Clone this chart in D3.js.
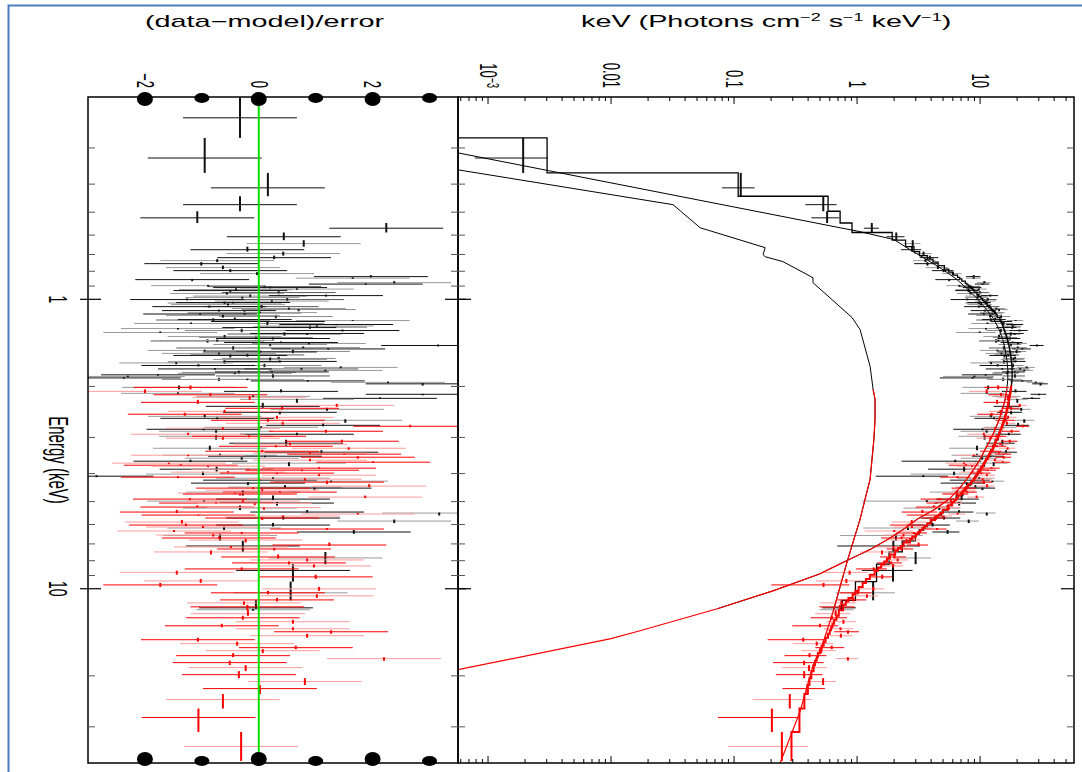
<!DOCTYPE html>
<html>
<head>
<meta charset="utf-8">
<script src="https://cdn.jsdelivr.net/npm/d3@7"></script>
<style>
  body { margin: 0; background: #fff; }
  text { font-family: "Liberation Sans", Arial, Helvetica, sans-serif; fill: #000; }
</style>
</head>
<body>
<svg id="chart" width="1082" height="772"></svg>
<script>
"use strict";

// first spectrum (black): bin centre energy (keV), residual, model flux, fractional error
var blackE = [0.236,0.325,0.412,0.471,0.523,0.568,0.608,0.642,0.674,0.695,
  0.718,0.735,0.753,0.777,0.796,0.815,0.835,0.845,0.855,0.876,
  0.886,0.897,0.911,0.922,0.933,0.955,0.971,0.986,1.002,1.014,
  1.026,1.042,1.060,1.076,1.094,1.111,1.124,1.138,1.175,1.184,
  1.193,1.212,1.222,1.237,1.252,1.262,1.282,1.302,1.312,1.344,
  1.366,1.388,1.410,1.421,1.444,1.467,1.484,1.502,1.520,1.538,
  1.563,1.614,1.639,1.659,1.693,1.719,1.740,1.761,1.782,1.803,
  1.824,1.847,1.869,1.891,1.914,1.936,1.959,2.015,2.080,2.113,
  2.129,2.164,2.199,2.216,2.343,2.399,2.457,2.537,2.577,2.618,
  2.725,2.768,2.812,2.857,2.925,2.973,3.142,3.270,3.375,3.457,
  3.484,3.540,3.625,3.682,3.863,4.017,4.084,4.149,4.215,4.249,
  4.316,4.456,4.491,4.636,4.901,4.980,5.058,5.264,5.433,5.476,
  5.698,5.836,6.025,6.169,6.368,6.549,7.117,7.827,8.644,10.33,
  11.64,11.82];
var blackRes = [-0.33,-0.95,0.16,-0.33,-1.08,2.24,0.44,0.79,-0.2,0.43,
  0.27,-0.73,-1.01,-0.63,-0.5,-0.03,1.97,1.65,-1.17,2.38,
  1.88,-0.89,0.2,0.67,-0.5,-0.56,1.18,-0.29,-1.26,0.23,
  -0.45,-0.54,-0.87,0.53,-0.7,0.02,-1.03,-0.63,-0.42,1.65,
  0.16,-1.19,1.36,1.02,0.36,-1.42,1.47,-1.73,0.85,-0.6,
  0.25,-0.73,0.39,0.88,3.15,0.78,1.22,-0.95,0.02,-0.7,
  -0.5,0.2,0.37,-1.45,-1.06,1.44,-0.77,1.17,0.23,-0.42,
  -1.77,-2.3,-2.37,-0.2,0.86,2.27,2.88,-1.4,0.39,-1.42,
  2.88,-0.1,2.13,0.67,0.07,1.2,0.37,-0.95,-0.73,1.52,
  1.13,0.04,-0.97,-0.75,0.67,-0.75,0.48,-0.86,1.1,-0.68,
  0.11,-0.3,-1.2,0.53,-0.74,-0.98,-2.85,0.25,0.02,1.27,
  -0.19,0.46,0.98,-0.28,0.25,-0.96,0.32,-0.33,0.85,3.17,
  0.43,2.38,0.25,-0.61,1.67,-0.68,-0.28,1.17,0.6,0.56,
  -0.05,-0.1];
var blackModel = [0.00028,0.00302,0.108,0.581,0.728,0.91,1.93,2.48,2.9,3.22,
  3.72,4.14,4.56,5.12,5.56,6.04,6.56,6.83,7.1,7.58,
  7.82,8.08,8.44,8.71,8.96,9.44,9.78,10.14,10.5,10.77,
  11.04,11.4,11.84,12.28,12.72,13.16,13.49,13.78,14.5,14.64,
  14.78,15.06,15.2,15.35,15.5,15.6,15.8,16.0,16.1,16.4,
  16.6,16.78,16.94,17.02,17.16,17.28,17.37,17.46,17.55,17.64,
  17.74,17.9,17.98,18.04,18.12,18.16,18.2,18.2,18.2,18.2,
  18.2,18.2,18.2,18.2,18.14,18.08,18.02,17.88,17.68,17.56,
  17.5,17.38,17.26,17.2,16.78,16.6,16.36,16.04,15.88,15.7,
  15.2,15.0,14.8,14.58,14.25,14.03,13.26,12.71,12.21,11.82,
  11.69,11.43,11.06,10.82,10.1,9.5,9.26,9.02,8.77,8.64,
  8.38,7.86,7.73,7.24,6.4,6.18,5.96,5.41,4.97,4.86,
  4.31,4.04,3.72,3.48,3.2,2.98,2.33,1.82,1.44,0.97,
  0.76,0.74];
var blackErr = [0.5,0.38,0.31,0.26,0.2,0.2,0.18,0.18,0.18,0.18,
  0.18,0.18,0.18,0.18,0.18,0.18,0.18,0.18,0.18,0.18,
  0.18,0.18,0.18,0.18,0.2,0.2,0.2,0.2,0.2,0.2,
  0.2,0.2,0.2,0.2,0.2,0.2,0.2,0.2,0.2,0.2,
  0.2,0.2,0.2,0.2,0.2,0.2,0.22,0.22,0.22,0.22,
  0.22,0.22,0.22,0.22,0.22,0.22,0.22,0.22,0.22,0.22,
  0.22,0.22,0.22,0.22,0.22,0.22,0.22,0.22,0.22,0.22,
  0.22,0.22,0.22,0.25,0.25,0.25,0.25,0.25,0.25,0.25,
  0.25,0.25,0.25,0.25,0.25,0.25,0.25,0.25,0.25,0.3,
  0.3,0.3,0.3,0.3,0.3,0.3,0.3,0.3,0.3,0.3,
  0.3,0.3,0.36,0.36,0.36,0.36,0.22,0.36,0.36,0.36,
  0.36,0.36,0.36,0.36,0.42,0.42,0.42,0.42,0.42,0.42,
  0.42,0.42,0.42,0.42,0.42,0.45,0.55,0.55,0.6,0.7,
  0.3,0.3];

// second soft-band spectrum (grey), only its densest stretch
var grayE = [0.904,0.926,0.948,0.975,1.002,1.030,1.060,1.085,1.115,1.147,
  1.179,1.212,1.247,1.282,1.318,1.355,1.393,1.432,1.473,1.514,
  1.557,1.601,1.646,1.693,1.740,1.789,1.840,1.891];
var grayRes = [0.1,-0.4,0.35,-0.15,0.5,-0.6,0.05,0.7,-0.25,0.3,
  -0.8,0.15,0.9,-0.3,0.45,-0.05,-0.9,0.2,-0.45,0.6,
  -0.2,0.35,-0.6,0.1,0.75,-0.35,0.25,-0.7];
var grayModel = [8.2,8.8,9.3,9.85,10.5,11.1,11.84,12.5,13.27,13.96,
  14.57,15.06,15.45,15.8,16.15,16.5,16.82,17.1,17.31,17.52,
  17.73,17.86,18.0,18.12,18.2,18.2,18.2,18.2];
var grayErr = [0.2,0.2,0.2,0.2,0.2,0.2,0.2,0.2,0.2,0.2,
  0.2,0.2,0.2,0.22,0.22,0.22,0.22,0.22,0.22,0.22,
  0.22,0.22,0.22,0.22,0.22,0.22,0.22,0.22];

// hard-band spectrum (red)
var redE = [2.015,2.080,2.137,2.181,2.270,2.325,2.380,2.438,2.495,2.557,
  2.618,2.681,2.746,2.790,2.857,2.925,2.973,3.020,3.093,3.166,
  3.219,3.270,3.349,3.401,3.428,3.457,3.512,3.597,3.654,3.682,
  3.743,3.772,3.832,3.863,3.894,3.955,3.986,4.052,4.116,4.182,
  4.282,4.420,4.491,4.563,4.636,4.672,4.708,4.824,4.901,4.980,
  5.058,5.077,5.222,5.243,5.433,5.518,5.566,5.609,5.698,5.882,
  6.025,6.120,6.218,6.318,6.417,6.523,6.679,6.786,7.062,7.173,
  7.288,7.463,7.766,7.953,8.142,8.341,8.541,8.780,9.101,9.395,
  9.700,10.01,10.33,10.58,10.93,11.19,11.55,12.20,12.60,13.00,
  13.43,13.75,14.08,14.53,15.00,15.48,15.98,16.37,17.03,17.44,
  18.00,18.73,19.81,20.93,22.13,24.15,27.86,35.06];
var redRes = [-1.2,-2.0,-0.85,-0.16,-1.07,1.37,0.41,-0.6,-1.3,0.32,
  0.16,0.42,2.66,-0.63,1.18,-1.24,-0.17,-0.63,1.46,0.55,
  0.3,1.58,0.06,0.9,1.5,-1.24,1.74,0.9,2.01,-1.58,
  -1.37,-0.89,1.06,-0.19,0.76,-0.54,0.32,1.06,-1.42,0.81,
  1.2,1.94,-0.1,0.06,0.37,-0.42,-0.33,1.87,-1.21,-0.28,
  -0.75,-0.07,-1.08,0.09,-1.44,1.74,-1.06,0.42,0.06,-1.35,
  -1.28,-0.98,1.2,-1.49,-0.3,-0.8,-0.7,-0.23,1.24,-0.49,
  0.27,-0.84,0.34,0.85,0.53,0.97,-0.3,-1.44,1.0,-1.02,
  -1.73,1.06,0.16,1.02,0.32,-0.26,-0.2,-0.19,-0.28,0.6,
  -0.65,0.6,1.27,0.85,-1.07,-0.38,0.65,0.07,-0.45,2.2,
  -0.51,-0.23,-0.35,0.81,0.02,-0.63,-1.06,-0.31];
var redModel = [17.88,17.68,17.47,17.32,17.02,16.84,16.66,16.44,16.2,15.96,
  15.7,15.4,15.1,14.9,14.58,14.25,14.03,13.81,13.48,13.15,
  12.93,12.71,12.34,12.08,11.95,11.82,11.56,11.18,10.94,10.82,
  10.58,10.46,10.22,10.1,9.98,9.74,9.62,9.38,9.14,8.9,
  8.51,7.99,7.73,7.48,7.24,7.12,7.0,6.64,6.4,6.18,
  5.96,5.91,5.52,5.47,4.97,4.75,4.64,4.53,4.31,3.96,
  3.72,3.56,3.4,3.27,3.14,3.01,2.81,2.69,2.39,2.27,
  2.15,2.04,1.85,1.75,1.66,1.57,1.48,1.39,1.27,1.18,
  1.11,1.03,0.97,0.92,0.85,0.81,0.77,0.71,0.68,0.65,
  0.63,0.615,0.6,0.58,0.555,0.535,0.515,0.5,0.48,0.47,
  0.455,0.443,0.425,0.41,0.395,0.373,0.34,0.293];
var redErr = [0.18,0.18,0.18,0.18,0.18,0.18,0.18,0.18,0.18,0.18,
  0.18,0.18,0.18,0.18,0.2,0.2,0.2,0.2,0.2,0.2,
  0.2,0.2,0.2,0.2,0.2,0.2,0.2,0.2,0.2,0.2,
  0.2,0.2,0.2,0.2,0.2,0.2,0.2,0.2,0.2,0.22,
  0.22,0.22,0.22,0.22,0.22,0.22,0.22,0.22,0.22,0.22,
  0.22,0.22,0.22,0.22,0.22,0.22,0.22,0.22,0.22,0.22,
  0.22,0.22,0.26,0.26,0.26,0.26,0.26,0.26,0.26,0.26,
  0.26,0.26,0.26,0.26,0.26,0.26,0.26,0.26,0.26,0.3,
  0.3,0.3,0.3,0.3,0.3,0.3,0.3,0.3,0.3,0.32,
  0.32,0.32,0.32,0.32,0.32,0.32,0.32,0.32,0.32,0.36,
  0.36,0.36,0.36,0.36,0.38,0.38,0.38,0.53];

// model components (keV, flux)
var powerlawE = [0.357,0.471,0.566,0.663,0.701,0.7125,0.741,0.842,0.876,1.156,1.272,1.706,
  2.047,2.216,2.598,3.044,4.18,5.744,8.08,12.01,15.73,18.44,26.56,40];
var powerlawF = [0.00057,0.0319,0.053,0.179,0.172,0.179,0.25,0.438,0.438,0.91,1.058,1.277,
  1.35,1.40,1.40,1.37,1.277,1.058,0.829,0.638,0.519,0.438,0.344,0.237];
var thermalE = [0.312,0.584,0.622,0.674,0.73,0.79,0.855,0.926,1.0,1.085,1.175,1.272,1.377,1.49,
  1.614,1.747,1.891,2.047,2.216,2.40,2.60,2.81,3.04,3.30,3.57,3.86,4.18,4.53,4.90,5.31,
  5.74,6.22,6.73,7.29,7.89,8.54,8.88,10.17,11.73,13.97,14.88,19.03];
var thermalF = [0.00057,1.06,2.0,2.7,3.7,5.0,6.5,8.0,9.6,11.3,13.0,14.3,15.3,16.0,
  16.5,16.8,16.8,16.5,16.0,15.2,14.3,13.3,12.2,11.0,10.0,8.9,7.8,6.7,5.6,4.3,
  3.1,2.4,1.8,1.3,0.88,0.6,0.5,0.207,0.073,0.0172,0.01,0.00057];

// axis ticks
var energyMajor = [1, 10];
var energyMinor = [0.3,0.4,0.5,0.6,0.7,0.8,0.9,2,3,4,5,6,7,8,9,20,30];
var resTicks = [-2, -1, 0, 1, 2, 3];
var resLabels = ["\u22122", "0", "2"];
var fluxLabelVals = [0.01, 0.1, 1, 10];
var fluxLabels = ["0.01", "0.1", "1", "10"];

var svg = d3.select("#chart");
var plotTop = 97, plotBottom = 763;

var yE = d3.scaleLog().domain([0.2, 40]).range([plotTop, plotBottom]);
var xRes = d3.scaleLinear().domain([-3, 3.5]).range([88, 458]);
var xFlux = d3.scaleLog().domain([5.7e-4, 58]).range([458, 1074]);

// page frame
svg.append("rect").attr("x", 8.5).attr("y", 5.5).attr("width", 1090).attr("height", 800)
  .attr("fill", "none").attr("stroke", "#4a7ebf").attr("stroke-width", 2);

var defs = svg.append("defs");
defs.append("clipPath").attr("id", "clipRes").append("rect")
  .attr("x", 88).attr("y", plotTop).attr("width", 370).attr("height", plotBottom - plotTop);
defs.append("clipPath").attr("id", "clipFlux").append("rect")
  .attr("x", 458).attr("y", plotTop).attr("width", 616).attr("height", plotBottom - plotTop);

// bins with edges half way (in log) between neighbours
function makeBins(E, res, model, err) {
  var n = E.length;
  return E.map(function (e, i) {
    var lo = i > 0 ? Math.sqrt(E[i - 1] * e) : e * Math.sqrt(e / E[1]);
    var hi = i < n - 1 ? Math.sqrt(e * E[i + 1]) : e * Math.sqrt(e / E[n - 2]);
    var sig = model[i] * err[i];
    var d = model[i] + res[i] * sig;
    return { i: i, e: e, lo: lo, hi: hi, res: res[i], model: model[i],
      data: d, dlo: Math.max(d - sig, 1e-6), dhi: d + sig };
  });
}
var blackBins = makeBins(blackE, blackRes, blackModel, blackErr);
var grayBins = makeBins(grayE, grayRes, grayModel, grayErr);
var redBins = makeBins(redE, redRes, redModel, redErr);

var resG = svg.append("g").attr("clip-path", "url(#clipRes)");
var fluxG = svg.append("g").attr("clip-path", "url(#clipFlux)");

function drawData(g, bins, xv, xlo, xhi, dark, light, firstLight, tick) {
  g.selectAll(null).data(bins).enter().append("line")
    .attr("x1", xlo).attr("x2", xhi)
    .attr("y1", function (d) { return yE(d.e); })
    .attr("y2", function (d) { return yE(d.e); })
    .attr("stroke", function (d) { return (d.i % 2 && d.i >= firstLight) ? light : dark; })
    .attr("stroke-width", 1);
  g.selectAll(null).data(bins).enter().append("line")
    .attr("x1", xv).attr("x2", xv)
    .attr("y1", function (d) { return yE(d.lo); })
    .attr("y2", function (d) { return yE(d.hi); })
    .attr("stroke", tick).attr("stroke-width", 2);
}

function resDraw(bins, dark, light, firstLight, tick) {
  drawData(resG, bins,
    function (d) { return xRes(d.res); },
    function (d) { return xRes(d.res - 1); },
    function (d) { return xRes(d.res + 1); }, dark, light, firstLight, tick);
}
function fluxDraw(bins, dark, light, firstLight, tick) {
  drawData(fluxG, bins,
    function (d) { return xFlux(d.data); },
    function (d) { return xFlux(d.dlo); },
    function (d) { return xFlux(d.dhi); }, dark, light, firstLight, tick);
}

function histogram(bins, color, width) {
  var pts = [];
  bins.forEach(function (b) {
    pts.push([xFlux(b.model), yE(b.lo)]);
    pts.push([xFlux(b.model), yE(b.hi)]);
  });
  fluxG.append("path").attr("d", d3.line()(pts))
    .attr("fill", "none").attr("stroke", color).attr("stroke-width", width);
}

var compLine = d3.line().x(function (d) { return xFlux(d[1]); }).y(function (d) { return yE(d[0]); });
function component(E, F, emin, emax, color, width) {
  var pts = E.map(function (e, i) { return [e, F[i]]; })
    .filter(function (p) { return p[0] >= emin && p[0] <= emax; });
  fluxG.append("path").attr("d", compLine(pts))
    .attr("fill", "none").attr("stroke", color).attr("stroke-width", width);
}

// residual panel
resDraw(grayBins, "#5a5a5a", "#8a8a8a", 0, "#222");
resDraw(blackBins, "#111", "#9a9a9a", 6, "#111");
resDraw(redBins, "#ff0000", "#ff9a9a", 0, "#ff0000");
resG.append("line").attr("x1", xRes(0)).attr("x2", xRes(0)).attr("y1", plotTop).attr("y2", plotBottom)
  .attr("stroke", "#00e000").attr("stroke-width", 2);

// spectrum panel
fluxDraw(grayBins, "#5a5a5a", "#8a8a8a", 0, "#222");
fluxDraw(blackBins, "#111", "#9a9a9a", 6, "#111");
histogram(blackBins, "#000", 1.3);
component(powerlawE, powerlawF, 0, 12.5, "#000", 1);
component(thermalE, thermalF, 0, 12.5, "#000", 1);
fluxDraw(redBins, "#ff0000", "#ff9a9a", 0, "#ff0000");
histogram(redBins, "#ff0000", 2);
component(powerlawE, powerlawF, 2.0, 40, "#ff0000", 1.2);
component(thermalE, thermalF, 2.0, 40, "#ff0000", 1.2);

// panel frames
svg.append("rect").attr("x", 88).attr("y", plotTop).attr("width", 370).attr("height", plotBottom - plotTop)
  .attr("fill", "none").attr("stroke", "#000").attr("stroke-width", 1.5);
svg.append("rect").attr("x", 458).attr("y", plotTop).attr("width", 616).attr("height", plotBottom - plotTop)
  .attr("fill", "none").attr("stroke", "#000").attr("stroke-width", 1.5);

function seg(x1, y1, x2, y2, color, w) {
  svg.append("line").attr("x1", x1).attr("y1", y1).attr("x2", x2).attr("y2", y2)
    .attr("stroke", color).attr("stroke-width", w || 1);
}

// energy ticks on the vertical frame lines
function energyTicks(x0, dir, out) {
  energyMinor.forEach(function (e) { seg(x0, yE(e), x0 + dir * 7, yE(e), "#555"); });
  energyMajor.forEach(function (e) { seg(x0 - dir * out, yE(e), x0 + dir * 13, yE(e), "#000", 1.2); });
}
energyTicks(88, 1, 8);
energyTicks(458, -1, 8);
energyTicks(458, 1, 0);
energyTicks(1074, -1, 0);

// flux ticks on top and bottom of spectrum panel
xFlux.ticks().forEach(function (t) {
  var lg = Math.log10(t);
  var major = Math.abs(lg - Math.round(lg)) < 1e-6;
  var len = major ? 7 : 4;
  var x = xFlux(t);
  if (x <= 459 || x >= 1073) return;
  seg(x, plotTop, x, plotTop + len, "#000");
  seg(x, plotBottom, x, plotBottom - len, "#000");
});

// residual ticks drawn as heavy blobs
resTicks.forEach(function (t) {
  var major = t % 2 === 0;
  svg.append("ellipse").attr("cx", xRes(t)).attr("cy", major ? 99 : 98)
    .attr("rx", major ? 8 : 7.5).attr("ry", major ? 7 : 5).attr("fill", "#000");
  svg.append("ellipse").attr("cx", xRes(t)).attr("cy", major ? 759 : 761)
    .attr("rx", major ? 8 : 7.5).attr("ry", major ? 7 : 5).attr("fill", "#000");
});

// rotated text: glyphs centred on x, stretched like the original figure
function vtext(x, y, size, anchor) {
  return svg.append("text")
    .attr("transform", "translate(" + x + "," + y + ") rotate(90) scale(1,1.8)")
    .attr("text-anchor", anchor).attr("dy", "0.35em")
    .style("font-size", size + "px");
}

resLabels.forEach(function (s, i) { vtext(xRes(-2 + 2 * i), 88, 13, "end").text(s); });
fluxLabelVals.forEach(function (v, i) { vtext(xFlux(v), 88, 13, "end").text(fluxLabels[i]); });
var e3 = vtext(xFlux(0.001), 88, 13, "end");
e3.append("tspan").text("10");
e3.append("tspan").attr("dy", "-0.45em").style("font-size", "9px").text("\u22123");

vtext(58, yE(1), 14, "middle").text("1");
vtext(58, yE(10), 14, "middle").text("10");
vtext(58, 460, 15, "middle").text("Energy (keV)");

// panel titles
svg.append("text").attr("transform", "translate(145,27) scale(1.8,1)")
  .style("font-size", "16px").text("(data\u2212model)/error");
var t2 = svg.append("text").attr("transform", "translate(581,27) scale(1.8,1)")
  .style("font-size", "16px");
t2.append("tspan").text("keV (Photons cm");
t2.append("tspan").attr("dy", -6).style("font-size", "10px").text("\u22122");
t2.append("tspan").attr("dy", 6).text(" s");
t2.append("tspan").attr("dy", -6).style("font-size", "10px").text("\u22121");
t2.append("tspan").attr("dy", 6).text(" keV");
t2.append("tspan").attr("dy", -6).style("font-size", "10px").text("\u22121");
t2.append("tspan").attr("dy", 6).text(")");
</script>
</body>
</html>
